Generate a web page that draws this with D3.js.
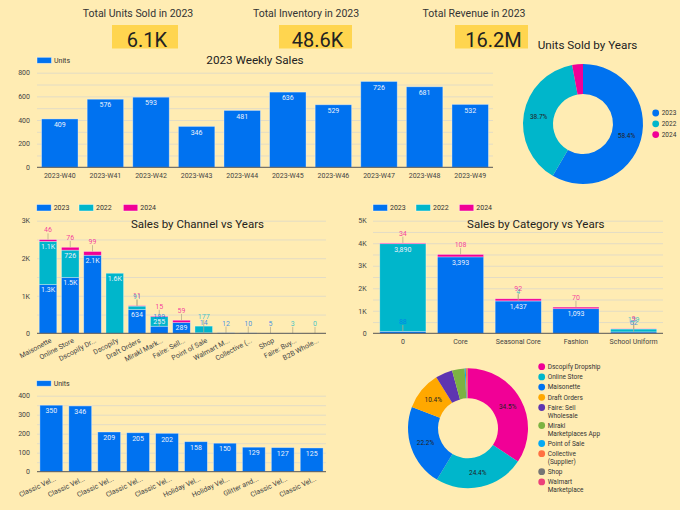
<!DOCTYPE html>
<html><head><meta charset="utf-8">
<script src="https://cdn.jsdelivr.net/npm/d3@7/dist/d3.min.js"></script>
<style>body{margin:0;background:#ffecb3;} text{font-family:Roboto, "Noto Sans", sans-serif;}</style>
</head><body><svg id="c" width="680" height="510"></svg>
<script>
// ---------------- DATA ----------------
const kpiTitles = ["Total Units Sold in 2023", "Total Inventory in 2023", "Total Revenue in 2023"];
const kpiValues = ["6.1K", "48.6K", "16.2M"];

const weeks = ["2023-W40","2023-W41","2023-W42","2023-W43","2023-W44","2023-W45","2023-W46","2023-W47","2023-W48","2023-W49"];
const weeklyUnits = [409, 576, 593, 346, 481, 636, 529, 726, 681, 532];
const weeklyTicks = [0, 200, 400, 600, 800];

const years = ["2023", "2022", "2024"];
const yearShares = [58.4, 38.7, 2.9];

const channels = ["Maisonette","Online Store","Dscopify Dr...","Dscopify","Draft Orders","Mirakl Mark...","Faire: Sell...","Point of Sale","Walmart M...","Collective (...","Shop","Faire: Buy...","B2B Whole..."];
const ch2023 = [1300, 1490, 2080, null, 634, 189, 289, 14, 12, 10, 5, null, null];
const ch2022 = [1150, 726, null, 1600, 91, 255, null, 177, null, null, null, 3, 0];
const ch2024 = [46, 76, 99, null, 11, 15, 59, null, null, null, null, null, null];
const channelTicks = [0, 1000, 2000, 3000];
const channelTickLabels = ["0", "1K", "2K", "3K"];

const categories = ["0", "Core", "Seasonal Core", "Fashion", "School Uniform"];
const cat2023 = [88, 3393, 1437, 1093, 62];
const cat2022 = [3890, null, 4, null, 129];
const cat2024 = [34, 108, 92, 70, 9];
const categoryTicks = [0, 1000, 2000, 3000, 4000, 5000];
const categoryTickLabels = ["0", "1K", "2K", "3K", "4K", "5K"];

const products = ["Classic Vel...","Classic Vel...","Classic Vel...","Classic Vel...","Classic Vel...","Holiday Vel...","Holiday Vel...","Glitter and...","Classic Vel...","Classic Vel..."];
const productUnits = [350, 346, 209, 205, 202, 158, 150, 129, 127, 125];
const productTicks = [0, 100, 200, 300, 400];

const shareChannels = ["Dscopify Dropship","Online Store","Maisonette","Draft Orders","Faire: Sell Wholesale","Mirakl Marketplaces App","Point of Sale","Collective (Supplier)","Shop","Walmart Marketplace"];
const channelShares = [34.5, 24.4, 22.2, 10.4, 4.6, 3.4, 0.3, 0.3, 0.15, 0.15];

// ---------------- STYLE ----------------
const BLUE = "#0072f0", TEAL = "#00b6cb", PINK = "#f10096";
const yearColors = [BLUE, TEAL, PINK];
const shareColors = ["#f10096","#00b6cb","#0072f0","#ffa800","#5e35b1","#7cb342","#03a9f4","#ff7043","#757575","#ec407a"];
const GRID = "#e3dcc5", AXIS = "#555", TXT = "#333", INLBL = "#eaf1fb";

const svg = d3.select("#c");
svg.append("rect").attr("width", 680).attr("height", 510).attr("fill", "#ffecb3");

// ---------------- KPIs ----------------
const kpiBoxes = [[112, 66], [279, 73], [455, 73]];
const kpiTitleX = [138, 306, 474];
kpiTitles.forEach((t, i) => {
  svg.append("text").attr("x", kpiTitleX[i]).attr("y", 17.3).attr("text-anchor", "middle")
    .attr("font-size", 10.5).attr("fill", TXT).text(t);
  svg.append("rect").attr("x", kpiBoxes[i][0]).attr("y", 25).attr("width", kpiBoxes[i][1]).attr("height", 23.5).attr("fill", "#ffd54f");
  svg.append("text").attr("x", kpiBoxes[i][0] + kpiBoxes[i][1] / 2 + 2).attr("y", 47.3).attr("text-anchor", "middle")
    .attr("font-size", 20).attr("fill", "#222").text(kpiValues[i]);
});

// ---------------- helpers ----------------
function grid(g, y, vals, x0, x1) {
  g.append("g").attr("transform", `translate(${x0},0)`)
    .call(d3.axisLeft(y).tickValues(vals).tickSize(-(x1 - x0)).tickFormat(""))
    .call(a => a.select(".domain").remove())
    .call(a => a.selectAll("line").attr("stroke", GRID).attr("stroke-width", 1));
}
function yLabels(g, y, vals, fmt, xRight) {
  g.append("g").attr("transform", `translate(${xRight},0)`)
    .call(d3.axisLeft(y).tickValues(vals).tickSize(0).tickPadding(0).tickFormat(fmt))
    .call(a => a.select(".domain").remove())
    .call(a => a.selectAll("text").attr("font-size", 7).attr("fill", "#444").attr("font-family", "Roboto"));
}
function baseline(g, x0, x1, yv) {
  g.append("line").attr("x1", x0).attr("x2", x1).attr("y1", yv).attr("y2", yv).attr("stroke", AXIS).attr("stroke-width", 1);
}
function legendBox(g, items, colors, xs, ytop, h) {
  items.forEach((t, i) => {
    g.append("rect").attr("x", xs[i]).attr("y", ytop).attr("width", 14.5).attr("height", h)
      .attr("fill", colors[i]).attr("stroke", "rgba(255,255,255,0.6)").attr("stroke-width", 0.7);
    g.append("text").attr("x", xs[i] + 17).attr("y", ytop + h / 2 + 2.4).attr("font-size", 7).attr("fill", TXT).text(t);
  });
}
function simpleBars(g, cats, vals, x, y) {
  g.selectAll(null).data(vals).join("rect")
    .attr("x", (d, i) => x(i)).attr("width", x.bandwidth())
    .attr("y", d => y(d)).attr("height", d => y(0) - y(d))
    .attr("fill", BLUE).attr("stroke", "rgba(255,255,255,0.45)").attr("stroke-width", 0.8);
  g.selectAll(null).data(vals).join("text")
    .attr("x", (d, i) => x(i) + x.bandwidth() / 2).attr("y", d => y(d) + 8.2)
    .attr("text-anchor", "middle").attr("font-size", 7).attr("fill", INLBL).text(d => d);
}
function stacked(g, n, seriesVals, colors, x, y, fmt) {
  const cum = new Array(n).fill(0);
  const labels = [];
  seriesVals.forEach((vals, s) => {
    vals.forEach((v, j) => {
      if (v === null) return;
      const y0 = cum[j], y1 = cum[j] + v;
      cum[j] = y1;
      const top = y(y1), h = y(y0) - y(y1);
      g.append("rect").attr("x", x(j)).attr("width", x.bandwidth()).attr("y", top).attr("height", Math.max(h, 0))
        .attr("fill", colors[s]).attr("stroke", "rgba(255,255,255,0.45)").attr("stroke-width", 0.7);
      const cx = x(j) + x.bandwidth() / 2;
      if (h >= 8) labels.push({cx, y: top + 7.8, t: fmt(v), c: INLBL, lead: false});
      else labels.push({cx, y: top - 7.3, t: fmt(v), c: colors[s], lead: true, top});
    });
  });
  labels.forEach(l => {
    if (l.lead) g.append("line").attr("x1", l.cx).attr("x2", l.cx).attr("y1", l.top).attr("y2", l.top - 6.3)
      .attr("stroke", "#b9ad8c").attr("stroke-width", 0.8);
  });
  labels.forEach(l => {
    g.append("text").attr("x", l.cx).attr("y", l.y).attr("text-anchor", "middle").attr("font-size", 7)
      .attr("fill", l.c).attr("fill-opacity", l.lead ? 0.75 : 1).text(l.t);
  });
}

// ---------------- Weekly sales ----------------
{
  const g = svg.append("g");
  const x = d3.scaleBand().domain(d3.range(weeks.length)).range([37, 493]).paddingInner(0.2).paddingOuter(0.1);
  const y = d3.scaleLinear().domain([0, 800]).range([167.3, 72.7]);
  grid(g, y, d3.range(100, 801, 100), 37, 493);
  yLabels(g, y, weeklyTicks, d => d, 30);
  simpleBars(g, weeks, weeklyUnits, x, y);
  baseline(g, 37, 493, y(0));
  weeks.forEach((w, i) => g.append("text").attr("x", x(i) + x.bandwidth() / 2).attr("y", 178.3)
    .attr("text-anchor", "middle").attr("font-size", 7).attr("fill", "#444").text(w));
  g.append("text").attr("x", 255).attr("y", 63.5).attr("text-anchor", "middle").attr("font-size", 11.7).attr("fill", "#222").text("2023 Weekly Sales");
  legendBox(g, ["Units"], [BLUE], [37], 57.3, 6);
}

// ---------------- Donut helper ----------------
function donut(g, cx, cy, vals, colors) {
  const pie = d3.pie().sort(null).value(d => d)(vals);
  const arc = d3.arc().innerRadius(30).outerRadius(60);
  const gg = g.append("g").attr("transform", `translate(${cx},${cy})`);
  gg.selectAll(null).data(pie).join("path").attr("d", arc).attr("fill", (d, i) => colors[i]);
  gg.selectAll(null).data(pie.filter(d => d.data >= 5)).join("text")
    .attr("transform", d => `translate(${arc.centroid(d)})`).attr("dy", "0.35em")
    .attr("text-anchor", "middle").attr("font-size", 6.5).attr("fill", "#222").text(d => d.data.toFixed(1) + "%");
}

// ---------------- Units sold by years ----------------
{
  const g = svg.append("g");
  g.append("text").attr("x", 537.7).attr("y", 49.2).attr("font-size", 11.7).attr("fill", "#222").text("Units Sold by Years");
  donut(g, 583, 124, yearShares, yearColors);
  years.forEach((t, i) => {
    const yy = 113 + i * 10.8;
    g.append("circle").attr("cx", 655.7).attr("cy", yy).attr("r", 3.4).attr("fill", yearColors[i]);
    g.append("text").attr("x", 661.7).attr("y", yy + 2.3).attr("font-size", 6.5).attr("fill", TXT).text(t);
  });
}

// ---------------- Sales by channel ----------------
{
  const g = svg.append("g");
  const x = d3.scaleBand().domain(d3.range(channels.length)).range([37, 326]).paddingInner(0.21).paddingOuter(0.1);
  const y = d3.scaleLinear().domain([0, 3000]).range([333.3, 220.7]);
  grid(g, y, d3.range(500, 3001, 500), 37, 326);
  yLabels(g, y, channelTicks, (d, i) => channelTickLabels[i], 30);
  stacked(g, channels.length, [ch2023, ch2022, ch2024], yearColors, x, y,
    v => v >= 1000 ? (v / 1000).toFixed(1) + "K" : String(v));
  baseline(g, 37, 326, y(0));
  channels.forEach((c, i) => {
    const tx = x(i) + x.bandwidth() / 2 + 3, ty = y(0) + 6.5;
    g.append("text").attr("transform", `translate(${tx},${ty}) rotate(-28)`).attr("text-anchor", "end")
      .attr("dy", "0.35em").attr("font-size", 7).attr("fill", "#444").text(c);
  });
  g.append("text").attr("x", 197.5).attr("y", 228.4).attr("text-anchor", "middle").attr("font-size", 11.5).attr("fill", "#222").text("Sales by Channel vs Years");
  legendBox(g, years, yearColors, [36.7, 79, 123.3], 204.5, 6.5);
}

// ---------------- Sales by category ----------------
{
  const g = svg.append("g");
  const x = d3.scaleBand().domain(d3.range(categories.length)).range([374, 662.5]).paddingInner(0.2).paddingOuter(0.1);
  const y = d3.scaleLinear().domain([0, 5000]).range([333.3, 220.7]);
  grid(g, y, d3.range(500, 5001, 500), 373, 663);
  yLabels(g, y, categoryTicks, (d, i) => categoryTickLabels[i], 366.7);
  stacked(g, categories.length, [cat2023, cat2022, cat2024], yearColors, x, y, d3.format(","));
  baseline(g, 373, 663, y(0));
  categories.forEach((c, i) => g.append("text").attr("x", x(i) + x.bandwidth() / 2).attr("y", 344.2)
    .attr("text-anchor", "middle").attr("font-size", 7).attr("fill", "#444").text(c));
  g.append("text").attr("x", 535.8).attr("y", 228.4).attr("text-anchor", "middle").attr("font-size", 11.5).attr("fill", "#222").text("Sales by Category vs Years");
  legendBox(g, years, yearColors, [373, 416, 459.3], 204.5, 6.5);
}

// ---------------- Top products ----------------
{
  const g = svg.append("g");
  const x = d3.scaleBand().domain(d3.range(products.length)).range([37, 326]).paddingInner(0.21).paddingOuter(0.1);
  const y = d3.scaleLinear().domain([0, 400]).range([471.7, 395.7]);
  grid(g, y, d3.range(50, 401, 50), 37, 326);
  yLabels(g, y, productTicks, d => d, 30);
  simpleBars(g, products, productUnits, x, y);
  baseline(g, 37, 326, y(0));
  products.forEach((c, i) => {
    const tx = x(i) + x.bandwidth() / 2 + 4, ty = y(0) + 6.5;
    g.append("text").attr("transform", `translate(${tx},${ty}) rotate(-25)`).attr("text-anchor", "end")
      .attr("dy", "0.35em").attr("font-size", 7).attr("fill", "#444").text(c);
  });
  legendBox(g, ["Units"], [BLUE], [36.7], 380.7, 5.5);
}

// ---------------- Channel share donut ----------------
{
  const g = svg.append("g");
  donut(g, 468, 428.3, channelShares, shareColors);
  let yy = 366.7;
  shareChannels.forEach((t, i) => {
    g.append("circle").attr("cx", 541.7).attr("cy", yy).attr("r", 3.4).attr("fill", shareColors[i]);
    const txt = g.append("text").attr("x", 547.7).attr("y", yy + 2.3).attr("font-size", 6.5).attr("fill", TXT).text(t);
    let lines = [t];
    if (txt.node().getComputedTextLength() > 55) {
      const words = t.split(" ");
      let first = words[0], k = 1;
      while (k < words.length) {
        txt.text(first + " " + words[k]);
        if (txt.node().getComputedTextLength() > 55) break;
        first += " " + words[k]; k++;
      }
      lines = [first, words.slice(k).join(" ")];
    }
    txt.text(null);
    lines.forEach((l, li) => txt.append("tspan").attr("x", 547.7).attr("dy", li ? 8.2 : 0).text(l));
    yy += lines.length > 1 ? 18 : 10.2;
  });
}
</script></body></html>
